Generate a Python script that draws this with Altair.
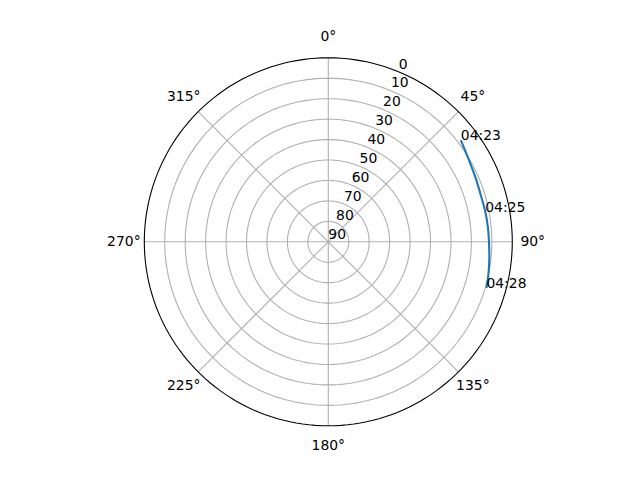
import altair as alt
import pandas as pd

# ---- data ----
track_az = [52.5, 58.0, 66.0, 73.0, 79.1, 85.0, 90.0, 96.0, 102.0, 106.3]
track_el = [8.3, 10.0, 11.4, 12.0, 11.8, 11.6, 11.4, 10.8, 10.0, 9.4]

label_times = ["04:23", "04:25", "04:28"]
label_az = [52.5, 79.1, 106.3]
label_el = [8.3, 11.8, 9.4]

ring_levels = [10, 20, 30, 40, 50, 60, 70, 80]      # elevation grid circles
spoke_angles = [0, 45, 90, 135, 180, 225, 270, 315]  # azimuth grid lines
theta_labels = ["0°", "45°", "90°", "135°", "180°", "225°", "270°", "315°"]
r_ticks = [0, 10, 20, 30, 40, 50, 60, 70, 80, 90]
r_label_angle = 22.5

FONT = "DejaVu Sans"
FS = 13.9
GRID = "#b0b0b0"

# ---- tables ----
circle_steps = list(range(0, 361, 2))
rings_df = pd.DataFrame(
    [{"ring": lv, "el": lv, "az": a} for lv in ring_levels for a in circle_steps]
)
edge_df = pd.DataFrame({"el": [0] * len(circle_steps), "az": circle_steps})
spokes_df = pd.DataFrame({"az": spoke_angles})
track_df = pd.DataFrame({"az": track_az, "el": track_el, "i": range(len(track_az))})
tlabels_df = pd.DataFrame({"az": label_az, "el": label_el, "t": label_times})
theta_df = pd.DataFrame({"az": spoke_angles, "el": [-10] * len(spoke_angles), "t": theta_labels})
rlab_df = pd.DataFrame({"az": [r_label_angle] * len(r_ticks), "el": r_ticks,
                        "t": [str(v) for v in r_ticks]})

SX = alt.Scale(domain=[-156.67, 146.6], nice=False, zero=False)
SY = alt.Scale(domain=[-110.64, 114.36], nice=False, zero=False)

PX = "(90 - datum.el) * sin(datum.az * PI / 180)"
PY = "(90 - datum.el) * cos(datum.az * PI / 180)"


def base(df):
    return alt.Chart(df).transform_calculate(px=PX, py=PY)


X = alt.X("px:Q", scale=SX, axis=None)
Y = alt.Y("py:Q", scale=SY, axis=None)

rings = base(rings_df).mark_line(color=GRID, strokeWidth=1.1).encode(
    x=X, y=Y, detail="ring:N", order=alt.Order("az:Q"))

spokes = alt.Chart(spokes_df).transform_calculate(
    cx="0", cy="0",
    ex="90 * sin(datum.az * PI / 180)", ey="90 * cos(datum.az * PI / 180)",
).mark_rule(color=GRID, strokeWidth=1.1).encode(
    x=alt.X("cx:Q", scale=SX, axis=None), y=alt.Y("cy:Q", scale=SY, axis=None),
    x2="ex:Q", y2="ey:Q")

edge = base(edge_df).mark_line(color="black", strokeWidth=1.1).encode(
    x=X, y=Y, order=alt.Order("az:Q"))

track = base(track_df).mark_line(color="#1f77b4", strokeWidth=2.1,
                                 interpolate="catmull-rom").encode(
    x=X, y=Y, order=alt.Order("i:Q"))

tlabels = base(tlabels_df).mark_text(align="left", baseline="alphabetic",
                                     font=FONT, fontSize=FS, color="black").encode(
    x=X, y=Y, text="t:N")

thetas = base(theta_df).mark_text(align="center", baseline="middle",
                                  font=FONT, fontSize=FS, color="black").encode(
    x=X, y=Y, text="t:N")

rlabels = base(rlab_df).mark_text(align="left", baseline="alphabetic", dy=-3.3,
                                  font=FONT, fontSize=FS, color="black").encode(
    x=X, y=Y, text="t:N")

chart = alt.layer(rings, spokes, track, edge, tlabels, thetas, rlabels).properties(
    width=620, height=460,
    autosize=alt.AutoSizeParams(type="none"),
    padding=0,
).configure_view(strokeOpacity=0)

chart.save("out.html", embed_options={"renderer": "svg", "actions": False})
